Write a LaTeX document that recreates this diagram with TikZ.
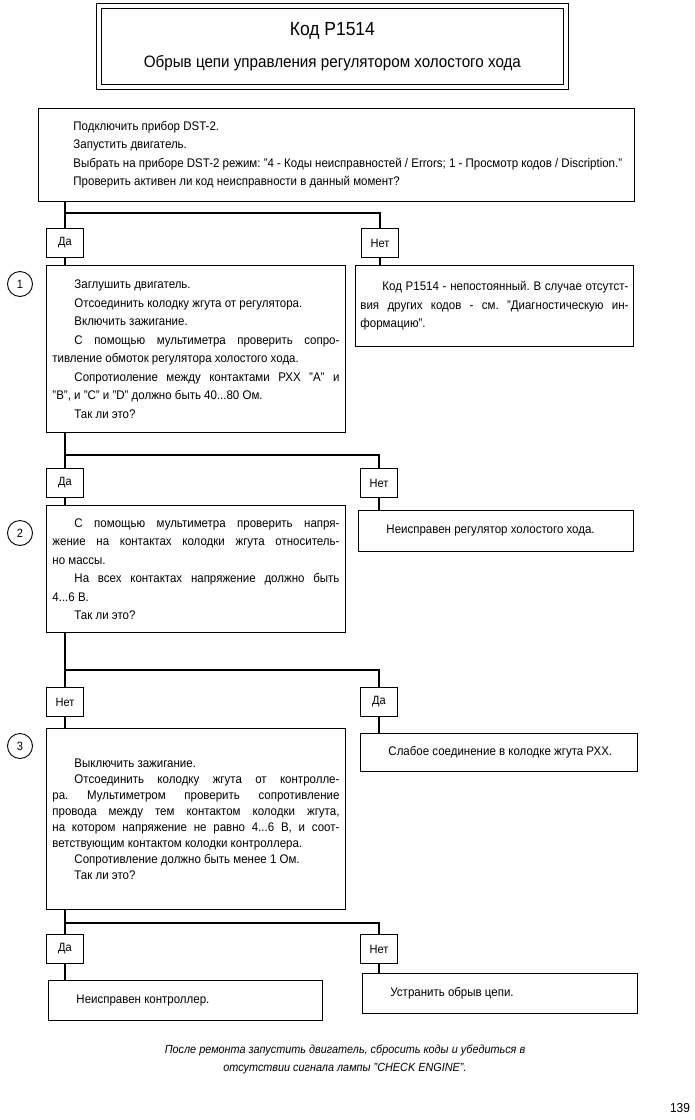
\documentclass[tikz,border=0pt]{standalone}
\usepackage{fontspec}
\setmainfont{Liberation Sans}[FakeStretch=0.92]
\newcommand{\ind}{\hspace*{22pt}}
\tikzset{
  stepbox/.style={draw, line width=0.9pt, anchor=north west, inner xsep=6pt,
    inner ysep=0pt, align=justify, font=\fontsize{12.5}{18.5}\selectfont,
    execute at begin node={\tolerance=10000\hbadness=10000\frenchspacing\relax}},
  answer/.style={draw, line width=0.9pt, minimum width=37pt, minimum height=29pt,
    inner sep=0pt, font=\fontsize{12}{13}\selectfont},
  stepnum/.style={circle, draw, line width=0.9pt, minimum size=25pt, inner sep=0pt,
    font=\fontsize{12}{13}\selectfont},
  link/.style={line width=2.6pt}
}
\begin{document}
\begin{tikzpicture}[x=1pt,y=-1pt]
\useasboundingbox (0,0) rectangle (695,1120);
%% title
\node[draw, line width=0.8pt, anchor=north west, minimum width=462pt,
  minimum height=76pt, align=center] (title) at (101,8)
  {{\fontsize{19}{21}\selectfont Код P1514}\\[15pt]
   {\fontsize{16.5}{18}\selectfont Обрыв цепи управления регулятором холостого хода}};
\draw[line width=0.8pt] ([xshift=-5pt,yshift=5pt]title.north west)
  rectangle ([xshift=5pt,yshift=-5pt]title.south east);
%% boxes
\node[stepbox, text width=584pt, minimum height=93pt] (start) at (38,108)
  {\leftskip=29pt Подключить прибор DST-2.\par
   Запустить двигатель.\par
   Выбрать на приборе DST-2 режим: "4 - Коды неисправностей / Errors; 1 - Просмотр кодов / Discription."\par
   Проверить активен ли код неисправности в данный момент?\par};
\node[stepbox, text width=287pt, minimum height=167pt] (step1) at (46,265)
  {\ind Заглушить двигатель.\par
   \ind Отсоединить колодку жгута от регулятора.\par
   \ind Включить зажигание.\par
   \ind С помощью мультиметра проверить сопро-\linebreak
   тивление обмоток регулятора холостого хода.\par
   \ind Сопротиоление между контактами РХХ "А" и\linebreak
   "B", и "C" и "D" должно быть 40...80 Ом.\par
   \ind Так ли это?};
\node[stepbox, inner xsep=5pt, text width=268pt, minimum height=81pt] (res1) at (355,265)
  {\ind Код P1514 - непостоянный. В случае отсутст-\linebreak
   вия других кодов - см. "Диагностическую ин-\linebreak
   формацию".};
\node[stepbox, text width=287pt, minimum height=127pt] (step2) at (46,505)
  {\ind С помощью мультиметра проверить напря-\linebreak
   жение на контактах колодки жгута относитель-\linebreak
   но массы.\par
   \ind На всех контактах напряжение должно быть\linebreak
   4...6 В.\par
   \ind Так ли это?};
\node[stepbox, text width=263pt, minimum height=41pt] (res2) at (358,510)
  {\ind Неисправен регулятор холостого хода.};
\node[stepbox, font=\fontsize{12.5}{16}\selectfont, text width=287pt,
  minimum height=181pt] (step3) at (46,728)
  {\ind Выключить зажигание.\par
   \ind Отсоединить колодку жгута от контролле-\linebreak
   ра. Мультиметром проверить сопротивление\linebreak
   провода между тем контактом колодки жгута,\linebreak
   на котором напряжение не равно 4...6 В, и соот-\linebreak
   ветствующим контактом колодки контроллера.\par
   \ind Сопротивление должно быть менее 1 Ом.\par
   \ind Так ли это?};
\node[stepbox, text width=265pt, minimum height=38pt] (res3) at (360,733)
  {\ind Слабое соединение в колодке жгута РХХ.};
\node[stepbox, text width=262pt, minimum height=40pt] (res4) at (48,980)
  {\ind Неисправен контроллер.};
\node[stepbox, text width=263pt, minimum height=40pt] (res5) at (362,973)
  {\ind Устранить обрыв цепи.};
%% answers and step numbers
\foreach \name/\x/\y/\txt in {yes1/65/243/Да, no1/380/243/Нет,
  yes2/65/483/Да, no2/379/483/Нет, no3/65/702/Нет, yes3/379/702/Да,
  yes4/65/949/Да, no4/379/949/Нет}
  \node[answer] (\name) at (\x,\y) {\txt};
\foreach \n/\y in {1/284,2/533,3/746}
  \node[stepnum] (num\n) at (20,\y) {\n};
%% connectors
\foreach \n/\y in {1/213,2/455,3/670,4/923}
  \coordinate (fork\n) at (65,\y);
\foreach \top/\f/\l/\r/\lb/\rb in {start/fork1/yes1/no1/step1/res1,
  step1/fork2/yes2/no2/step2/res2, step2/fork3/no3/yes3/step3/res3,
  step3/fork4/yes4/no4/res4/res5} {
  \draw[link] (\top.south -| \f) -- (\l.north);
  \draw[link] (\f) -| (\r.north);
  \draw[link] (\l.south) -- (\l.south |- \lb.north);
  \draw[link] (\r.south) -- (\r.south |- \rb.north);
}
%% note and page number
\node[font=\fontsize{11.8}{18}\selectfont\itshape, align=center] (note) at (345,1059)
  {После ремонта запустить двигатель, сбросить коды и убедиться в\\
   отсутствии сигнала лампы "CHECK ENGINE".};
\node[font=\fontsize{13}{15}\selectfont] (page) at (680,1108) {139};
\end{tikzpicture}
\end{document}
